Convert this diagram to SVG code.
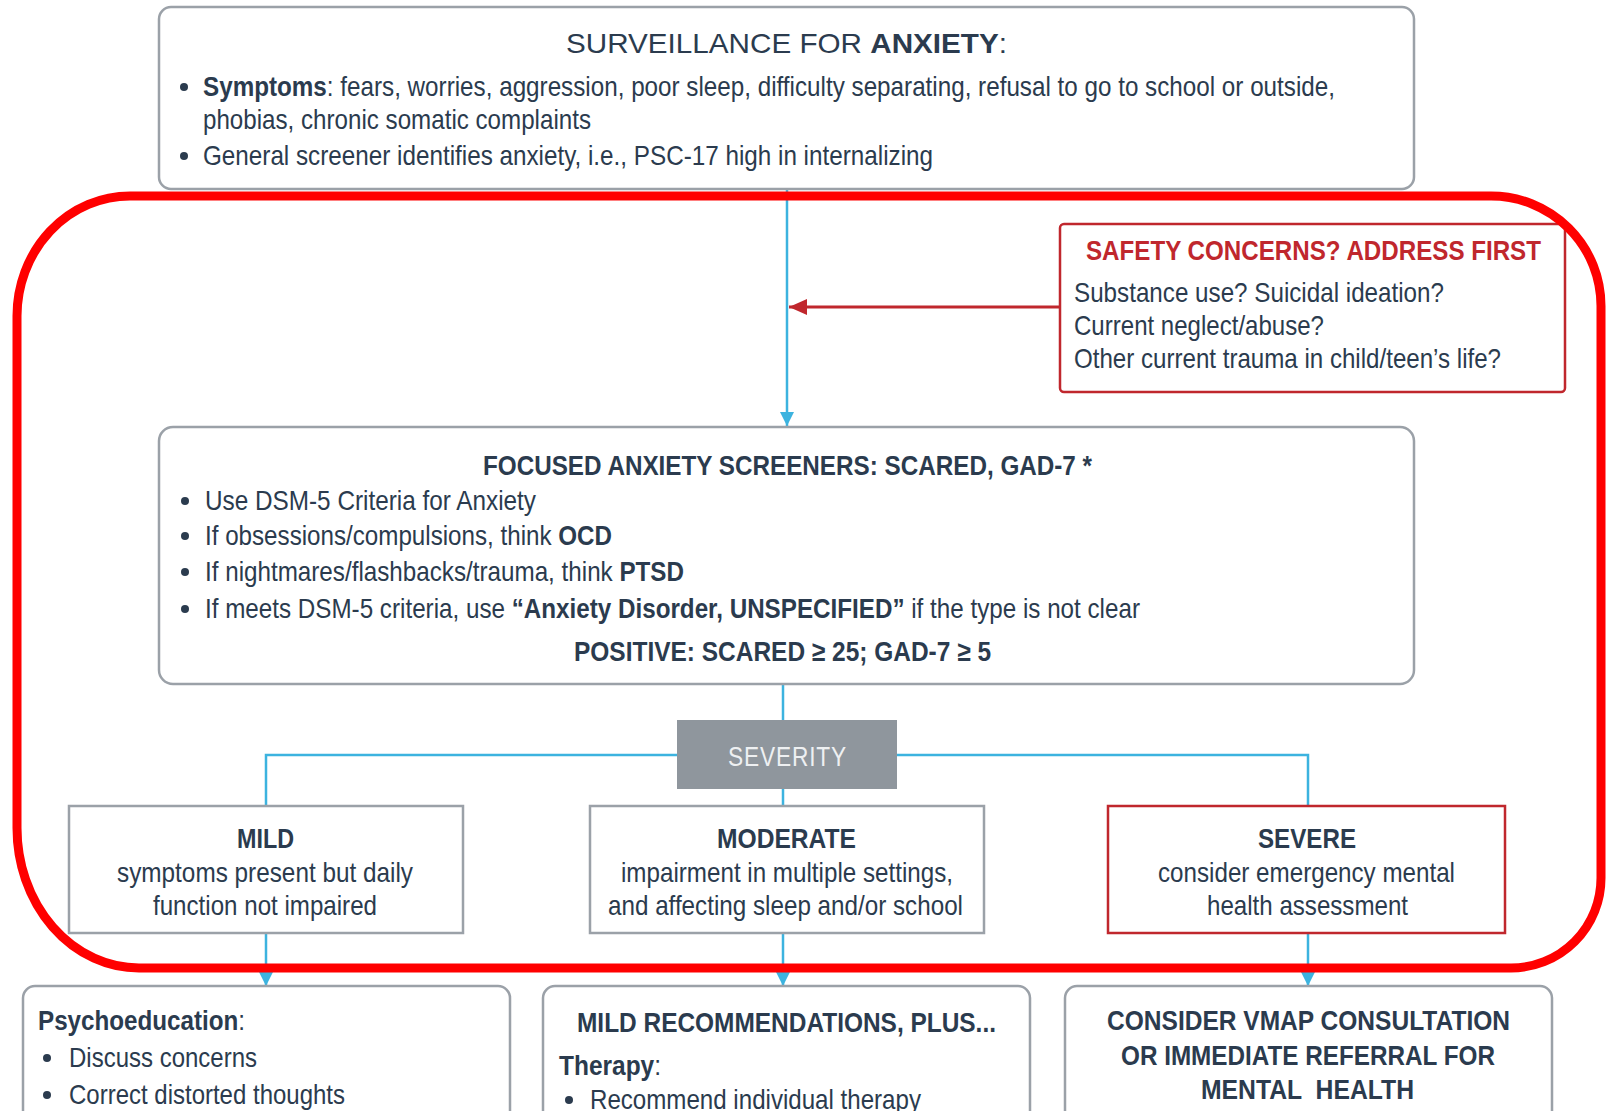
<svg xmlns="http://www.w3.org/2000/svg" width="1606" height="1111" viewBox="0 0 1606 1111">
  <defs>
    <style>
      text { font-family: "Liberation Sans Narrow", "Liberation Sans", Arial, sans-serif; font-size: 28px; fill: #2b3b4e; }
      .b { font-weight: bold; }
      .red { fill: #c0272d; }
      .sev { fill: #eef0f2; font-size: 27px; letter-spacing: 1px; }
      .box { fill: #ffffff; stroke: #9ba1a8; stroke-width: 2.5; }
      .rbox { fill: #ffffff; stroke: #c0272d; stroke-width: 2.5; }
      .link { fill: none; stroke: #3cb3df; stroke-width: 2.5; }
      .rlink { fill: none; stroke: #c0272d; stroke-width: 3; }
      .dot { fill: #2b3b4e; }
    </style>
    <marker id="arrBlue" markerUnits="userSpaceOnUse" markerWidth="16" markerHeight="16" refX="14" refY="7" orient="auto">
      <path d="M0,0 L14,7 L0,14 Z" fill="#3cb3df"/>
    </marker>
    <marker id="arrRed" markerUnits="userSpaceOnUse" markerWidth="20" markerHeight="18" refX="18" refY="8" orient="auto">
      <path d="M0,0 L18,8 L0,16 Z" fill="#c0272d"/>
    </marker>
  </defs>

  <rect width="1606" height="1111" fill="#ffffff"/>

  <!-- connectors -->
  <g id="connectors">
    <path class="link" d="M787,189 V426" marker-end="url(#arrBlue)"/>
    <path class="rlink" d="M1060,307 H789" marker-end="url(#arrRed)"/>
    <path class="link" d="M783,684 V720"/>
    <path class="link" d="M677,755 H266 V806"/>
    <path class="link" d="M897,755 H1308 V806"/>
    <path class="link" d="M783,789 V806"/>
    <path class="link" d="M266,933 V986" marker-end="url(#arrBlue)"/>
    <path class="link" d="M783,933 V986" marker-end="url(#arrBlue)"/>
    <path class="link" d="M1308,933 V986" marker-end="url(#arrBlue)"/>
  </g>

  <!-- surveillance -->
  <g id="surveillance">
    <rect class="box" x="159" y="7" width="1255" height="182" rx="12"/>
    <text x="566" y="53" textLength="441" lengthAdjust="spacingAndGlyphs">SURVEILLANCE FOR <tspan class="b">ANXIETY</tspan>:</text>
    <circle class="dot" cx="184" cy="87" r="4"/>
    <text x="203" y="96" textLength="1132" lengthAdjust="spacingAndGlyphs"><tspan class="b">Symptoms</tspan>: fears, worries, aggression, poor sleep, difficulty separating, refusal to go to school or outside,</text>
    <text x="203" y="129" textLength="388" lengthAdjust="spacingAndGlyphs">phobias, chronic somatic complaints</text>
    <circle class="dot" cx="184" cy="156" r="4"/>
    <text x="203" y="165" textLength="730" lengthAdjust="spacingAndGlyphs">General screener identifies anxiety, i.e., PSC-17 high in internalizing</text>
  </g>

  <!-- safety concerns -->
  <g id="safety">
    <rect class="rbox" x="1060" y="224" width="505" height="168" rx="4"/>
    <text class="b red" x="1086" y="260" textLength="455" lengthAdjust="spacingAndGlyphs">SAFETY CONCERNS? ADDRESS FIRST</text>
    <text x="1074" y="302" textLength="370" lengthAdjust="spacingAndGlyphs">Substance use? Suicidal ideation?</text>
    <text x="1074" y="335" textLength="250" lengthAdjust="spacingAndGlyphs">Current neglect/abuse?</text>
    <text x="1074" y="368" textLength="427" lengthAdjust="spacingAndGlyphs">Other current trauma in child/teen’s life?</text>
  </g>

  <!-- focused screeners -->
  <g id="focused">
    <rect class="box" x="159" y="427" width="1255" height="257" rx="14"/>
    <text class="b" x="483" y="475" textLength="609" lengthAdjust="spacingAndGlyphs">FOCUSED ANXIETY SCREENERS: SCARED, GAD-7 *</text>
    <circle class="dot" cx="185" cy="501" r="4"/>
    <text x="205" y="510" textLength="331" lengthAdjust="spacingAndGlyphs">Use DSM-5 Criteria for Anxiety</text>
    <circle class="dot" cx="185" cy="536" r="4"/>
    <text x="205" y="545" textLength="407" lengthAdjust="spacingAndGlyphs">If obsessions/compulsions, think <tspan class="b">OCD</tspan></text>
    <circle class="dot" cx="185" cy="572" r="4"/>
    <text x="205" y="581" textLength="479" lengthAdjust="spacingAndGlyphs">If nightmares/flashbacks/trauma, think <tspan class="b">PTSD</tspan></text>
    <circle class="dot" cx="185" cy="609" r="4"/>
    <text x="205" y="618" textLength="935" lengthAdjust="spacingAndGlyphs">If meets DSM-5 criteria, use <tspan class="b">“Anxiety Disorder, UNSPECIFIED”</tspan> if the type is not clear</text>
    <text class="b" x="574" y="661" textLength="417" lengthAdjust="spacingAndGlyphs">POSITIVE: SCARED ≥ 25; GAD-7 ≥ 5</text>
  </g>

  <!-- severity -->
  <g id="severity">
    <rect x="677" y="720" width="220" height="69" fill="#8f969d"/>
    <text class="sev" x="728" y="766" textLength="119" lengthAdjust="spacingAndGlyphs">SEVERITY</text>
  </g>

  <!-- mild -->
  <g id="mild">
    <rect class="box" x="69" y="806" width="394" height="127"/>
    <text class="b" x="237" y="848" textLength="57" lengthAdjust="spacingAndGlyphs">MILD</text>
    <text x="117" y="882" textLength="296" lengthAdjust="spacingAndGlyphs">symptoms present but daily</text>
    <text x="153" y="915" textLength="224" lengthAdjust="spacingAndGlyphs">function not impaired</text>
  </g>

  <!-- moderate -->
  <g id="moderate">
    <rect class="box" x="590" y="806" width="394" height="127"/>
    <text class="b" x="717" y="848" textLength="139" lengthAdjust="spacingAndGlyphs">MODERATE</text>
    <text x="621" y="882" textLength="332" lengthAdjust="spacingAndGlyphs">impairment in multiple settings,</text>
    <text x="608" y="915" textLength="355" lengthAdjust="spacingAndGlyphs">and affecting sleep and/or school</text>
  </g>

  <!-- severe -->
  <g id="severe">
    <rect class="rbox" x="1108" y="806" width="397" height="127"/>
    <text class="b" x="1258" y="848" textLength="98" lengthAdjust="spacingAndGlyphs">SEVERE</text>
    <text x="1158" y="882" textLength="297" lengthAdjust="spacingAndGlyphs">consider emergency mental</text>
    <text x="1207" y="915" textLength="201" lengthAdjust="spacingAndGlyphs">health assessment</text>
  </g>

  <!-- mild recommendations -->
  <g id="mild-recs">
    <rect class="box" x="23" y="986" width="487" height="200" rx="12"/>
    <text x="38" y="1030" textLength="207" lengthAdjust="spacingAndGlyphs"><tspan class="b">Psychoeducation</tspan>:</text>
    <circle class="dot" cx="47" cy="1058" r="4"/>
    <text x="69" y="1067" textLength="188" lengthAdjust="spacingAndGlyphs">Discuss concerns</text>
    <circle class="dot" cx="47" cy="1095" r="4"/>
    <text x="69" y="1104" textLength="276" lengthAdjust="spacingAndGlyphs">Correct distorted thoughts</text>
  </g>

  <!-- moderate recommendations -->
  <g id="moderate-recs">
    <rect class="box" x="543" y="986" width="487" height="200" rx="12"/>
    <text class="b" x="577" y="1032" textLength="419" lengthAdjust="spacingAndGlyphs">MILD RECOMMENDATIONS, PLUS...</text>
    <text x="559" y="1075" textLength="102" lengthAdjust="spacingAndGlyphs"><tspan class="b">Therapy</tspan>:</text>
    <circle class="dot" cx="569" cy="1100" r="4"/>
    <text x="590" y="1109" textLength="331" lengthAdjust="spacingAndGlyphs">Recommend individual therapy</text>
  </g>

  <!-- severe recommendations -->
  <g id="severe-recs">
    <rect class="box" x="1065" y="986" width="487" height="200" rx="12"/>
    <text class="b" x="1107" y="1030" textLength="403" lengthAdjust="spacingAndGlyphs">CONSIDER VMAP CONSULTATION</text>
    <text class="b" x="1121" y="1065" textLength="374" lengthAdjust="spacingAndGlyphs">OR IMMEDIATE REFERRAL FOR</text>
    <text class="b" x="1201" y="1099" textLength="213" lengthAdjust="spacingAndGlyphs" xml:space="preserve">MENTAL  HEALTH</text>
  </g>

  <!-- highlight outline around the screening and severity steps -->
  <g id="highlight">
    <path d="M130,196 H1491 A110,110 0 0 1 1601,306 V878 A90,90 0 0 1 1511,968 H139 A122,140 0 0 1 17,828 V316 A113,120 0 0 1 130,196 Z" fill="none" stroke="#ff0000" stroke-width="9"/>
  </g>
</svg>
